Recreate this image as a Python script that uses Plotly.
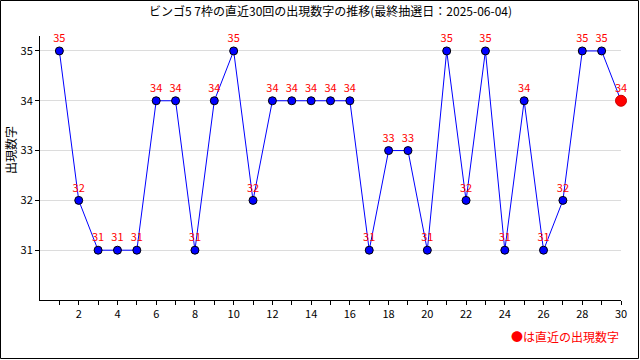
import plotly.graph_objects as go

draws = list(range(1, 31))
values = [35, 32, 31, 31, 31, 34, 34, 31, 34, 35, 32, 34, 34, 34, 34, 34, 31, 33, 33, 31,
          35, 32, 35, 31, 34, 31, 32, 35, 35, 34]
title_text = "ビンゴ5 7枠の直近30回の出現数字の推移(最終抽選日：2025-06-04)"
y_title = "出現数字"
note_text = "●は直近の出現数字"
x_ticks = list(range(2, 31, 2))
y_ticks = [31, 32, 33, 34, 35]

W, H = 640, 360
ml, mr, mt, mb = 40, 19, 36, 60
pw, ph = W - ml - mr, H - mt - mb

FONT = "Noto Sans CJK JP"

fig = go.Figure()
fig.add_trace(go.Scatter(
    x=draws, y=values, mode="lines+markers+text",
    line=dict(color="#0000ff", width=1),
    marker=dict(color="#0000ff", size=8, line=dict(color="black", width=1)),
    text=[str(v) for v in values], textposition="top center",
    textfont=dict(color="#ff0000", size=11, family=FONT),
    showlegend=False, cliponaxis=False,
))
fig.add_trace(go.Scatter(
    x=[draws[-1]], y=[values[-1]], mode="markers",
    marker=dict(color="#ff0000", size=11, line=dict(color="#cc0000", width=1)),
    showlegend=False, cliponaxis=False,
))

def px(x):
    return (x - ml) / pw

def py(y):
    return 1 - (y - mt) / ph

fig.add_shape(type="rect", xref="paper", yref="paper",
              x0=px(0.5), x1=px(W - 1.5), y0=py(H - 1.5), y1=py(0.5),
              line=dict(color="black", width=1))

fig.add_annotation(text=note_text, xref="paper", yref="paper",
                   x=px(621), y=py(336), xanchor="right", yanchor="middle",
                   showarrow=False, font=dict(color="#ff0000", size=12, family=FONT))

fig.add_annotation(text=y_title, xref="paper", yref="paper",
                   x=px(10), y=py(150), xanchor="center", yanchor="middle",
                   textangle=-90, showarrow=False,
                   font=dict(color="black", size=12, family=FONT))

fig.update_layout(
    width=W, height=H,
    margin=dict(l=ml, r=mr, t=mt, b=mb, autoexpand=False),
    paper_bgcolor="white", plot_bgcolor="white",
    title=dict(text=title_text, x=0.5, xref="paper", y=1 - 12 / H, yanchor="middle",
               font=dict(size=12, color="black", family=FONT)),
    font=dict(family=FONT, size=11, color="black"),
    xaxis=dict(range=[0, 30], tickvals=draws,
               ticktext=[str(d) if d in x_ticks else "" for d in draws],
               ticks="outside", ticklen=4, tickcolor="black",
               showline=True, linecolor="black", linewidth=1,
               showgrid=False, zeroline=False, automargin=False,
               tickfont=dict(size=11, family=FONT)),
    yaxis=dict(range=[30, 35.3], tickvals=y_ticks,
               ticks="outside", ticklen=4, tickcolor="black",
               showline=True, linecolor="black", linewidth=1,
               showgrid=True, gridcolor="#dcdcdc", zeroline=False, automargin=False,
               tickfont=dict(size=11, family=FONT)),
)

fig.write_html("out.html", config={"displayModeBar": False},
               post_script="document.body.style.margin='0';document.body.style.padding='0';")
